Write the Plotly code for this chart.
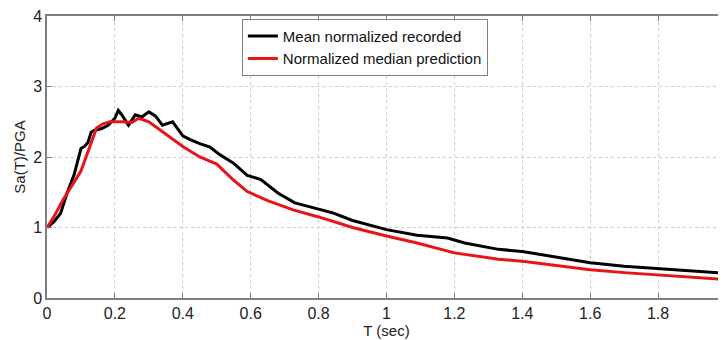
import plotly.graph_objects as go

# Mean normalized recorded
t_rec = [0, 0.02, 0.04, 0.05, 0.06, 0.08, 0.09, 0.10, 0.11, 0.12, 0.13, 0.14, 0.16, 0.18,
         0.20, 0.21, 0.22, 0.24, 0.26, 0.28, 0.30, 0.32, 0.34, 0.37, 0.40, 0.42, 0.45,
         0.48, 0.51, 0.55, 0.59, 0.63, 0.68, 0.73, 0.80, 0.84, 0.90, 1.00, 1.09, 1.18,
         1.23, 1.33, 1.40, 1.50, 1.60, 1.70, 1.80, 1.90, 2.00]
sa_rec = [1.0, 1.08, 1.2, 1.35, 1.5, 1.75, 1.95, 2.12, 2.15, 2.2, 2.35, 2.38, 2.4, 2.45,
          2.55, 2.66, 2.6, 2.45, 2.6, 2.57, 2.64, 2.58, 2.45, 2.5, 2.3, 2.25, 2.19,
          2.14, 2.03, 1.91, 1.74, 1.68, 1.49, 1.35, 1.26, 1.21, 1.1, 0.97, 0.89, 0.85,
          0.78, 0.69, 0.66, 0.58, 0.5, 0.45, 0.42, 0.39, 0.35]

# Normalized median prediction
t_pred = [0, 0.02, 0.047, 0.07, 0.087, 0.10, 0.112, 0.126, 0.146, 0.165, 0.185, 0.22,
          0.25, 0.27, 0.30, 0.32, 0.36, 0.40, 0.45, 0.50, 0.55, 0.59, 0.65, 0.725, 0.80,
          0.90, 1.00, 1.09, 1.20, 1.33, 1.40, 1.50, 1.60, 1.70, 1.80, 1.90, 2.00]
sa_pred = [1.0, 1.15, 1.39, 1.58, 1.70, 1.8, 1.96, 2.17, 2.41, 2.47, 2.5, 2.5,
           2.49, 2.55, 2.5, 2.43, 2.29, 2.15, 2.0, 1.9, 1.67, 1.51, 1.38, 1.25, 1.15,
           1.0, 0.88, 0.78, 0.64, 0.55, 0.52, 0.46, 0.40, 0.36, 0.33, 0.29, 0.26]

x_ticks = [0, 0.2, 0.4, 0.6, 0.8, 1, 1.2, 1.4, 1.6, 1.8, 2]
x_labels = ["0", "0.2", "0.4", "0.6", "0.8", "1", "1.2", "1.4", "1.6", "1.8", "2"]
y_ticks = [0, 1, 2, 3, 4]

fig = go.Figure()
fig.add_trace(go.Scatter(x=t_rec, y=sa_rec, mode="lines", name="Mean normalized recorded",
                         line=dict(color="black", width=3)))
fig.add_trace(go.Scatter(x=t_pred, y=sa_pred, mode="lines", name="Normalized median prediction",
                         line=dict(color="#e8141a", width=3)))

axis_common = dict(showline=True, linecolor="#7f7f7f", linewidth=1.5, mirror="ticks",
                   ticks="inside", ticklen=5, tickcolor="#7f7f7f",
                   showgrid=True, gridcolor="#cccccc", griddash="dot", gridwidth=1,
                   zeroline=False, tickfont=dict(size=16, color="#222"), automargin=False,
                   ticklabeloverflow="allow")

# the page places the figure 8 px from the top-left corner, margins compensate
fig.update_layout(
    width=726, height=340,
    margin=dict(l=39, r=8, t=8, b=50, autoexpand=False),
    paper_bgcolor="white", plot_bgcolor="white",
    font=dict(family="Liberation Sans, Arial, sans-serif", color="#222"),
    xaxis=dict(range=[0, 2], tickvals=x_ticks, ticktext=x_labels,
               title=dict(text="T (sec)", font=dict(size=15), standoff=0), **axis_common),
    yaxis=dict(range=[0, 4], tickvals=y_ticks, ticklabelstandoff=0,
               title=dict(text="Sa(T)/PGA", font=dict(size=15), standoff=4), **axis_common),
    legend=dict(x=0.287, y=0.99, xanchor="left", yanchor="top",
                bgcolor="white", bordercolor="#7f7f7f", borderwidth=1,
                font=dict(size=15, color="#111"), tracegroupgap=0),
    showlegend=True,
)

fig.write_html("out.html")
